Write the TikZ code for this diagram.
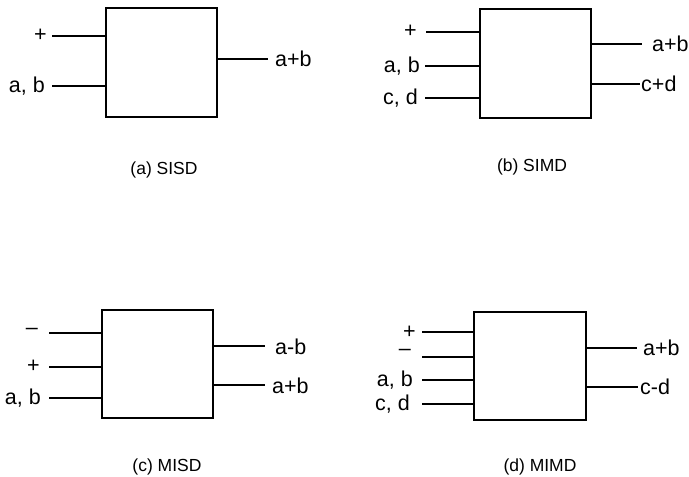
\documentclass[tikz,border=0pt]{standalone}
\usepackage{fontspec}
\setmainfont{Liberation Sans}
\begin{document}
\begin{tikzpicture}[x=1pt,y=-1pt,
  procbox/.style={draw,line width=1.4pt,inner sep=0pt,minimum width=111pt,minimum height=109pt},
  wire/.style={line width=2.3pt},
  lbl/.style={inner sep=0pt,font=\fontsize{21.5}{24}\selectfont},
  captxt/.style={inner sep=0pt,font=\fontsize{17.5}{20}\selectfont}]
\useasboundingbox (0,0) rectangle (689,477);
% ---------- (a) SISD ----------
\node[procbox] (A) at (161.5,62.5) {};
\coordinate (a1) at (52,36);
\coordinate (a2) at (52,86);
\node[lbl,anchor=east] (la1) at (47,35) {+};
\node[lbl,anchor=east] (la2) at (45,86) {a, b};
\draw[wire] (a1) -- (a1 -| A.west);
\draw[wire] (a2) -- (a2 -| A.west);
\coordinate (ao1) at (268,59);
\node[lbl,anchor=west] (lao1) at (275,59) {a+b};
\draw[wire] (A.east |- ao1) -- (ao1);
\node[captxt] (capa) at (164,170) {(a) SISD};
% ---------- (b) SIMD ----------
\node[procbox] (B) at (535.5,63.5) {};
\coordinate (b1) at (426,32);
\coordinate (b2) at (425,66);
\coordinate (b3) at (425,98);
\node[lbl,anchor=east] (lb1) at (417,31) {+};
\node[lbl,anchor=east] (lb2) at (420,66) {a, b};
\node[lbl,anchor=east] (lb3) at (418,98) {c, d};
\draw[wire] (b1) -- (b1 -| B.west);
\draw[wire] (b2) -- (b2 -| B.west);
\draw[wire] (b3) -- (b3 -| B.west);
\coordinate (bo1) at (642,44);
\coordinate (bo2) at (640,84);
\node[lbl,anchor=west] (lbo1) at (652,44) {a+b};
\node[lbl,anchor=west] (lbo2) at (641,84) {c+d};
\draw[wire] (B.east |- bo1) -- (bo1);
\draw[wire] (B.east |- bo2) -- (bo2);
\node[captxt] (capb) at (532,167) {(b) SIMD};
% ---------- (c) MISD ----------
\node[procbox,minimum height=108pt] (C) at (157.5,364) {};
\coordinate (c1) at (49,333);
\coordinate (c2) at (49,367);
\coordinate (c3) at (49,398);
\node[lbl,anchor=east] (lc1) at (38,331) {–};
\node[lbl,anchor=east] (lc2) at (40,366) {+};
\node[lbl,anchor=east] (lc3) at (41,398) {a, b};
\draw[wire] (c1) -- (c1 -| C.west);
\draw[wire] (c2) -- (c2 -| C.west);
\draw[wire] (c3) -- (c3 -| C.west);
\coordinate (co1) at (265,346);
\coordinate (co2) at (265,385);
\node[lbl,anchor=west] (lco1) at (275,347) {a-b};
\node[lbl,anchor=west] (lco2) at (272,386) {a+b};
\draw[wire] (C.east |- co1) -- (co1);
\draw[wire] (C.east |- co2) -- (co2);
\node[captxt] (capc) at (167,467) {(c) MISD};
% ---------- (d) MIMD ----------
\node[procbox,minimum width=112pt,minimum height=108pt] (D) at (530,366) {};
\coordinate (d1) at (422,332);
\coordinate (d2) at (422,357);
\coordinate (d3) at (422,380);
\coordinate (d4) at (422,404);
\node[lbl,anchor=east,text height=0.6em,text depth=0pt] (ld1) at (416,335) {+};
\node[lbl,anchor=east,text height=0.4em,text depth=0pt] (ld2) at (411,353.6) {–};
\node[lbl,anchor=east] (ld3) at (413,380) {a, b};
\node[lbl,anchor=east] (ld4) at (410,404) {c, d};
\draw[wire] (d1) -- (d1 -| D.west);
\draw[wire] (d2) -- (d2 -| D.west);
\draw[wire] (d3) -- (d3 -| D.west);
\draw[wire] (d4) -- (d4 -| D.west);
\coordinate (do1) at (637,348);
\coordinate (do2) at (638,387);
\node[lbl,anchor=west] (ldo1) at (643,348) {a+b};
\node[lbl,anchor=west] (ldo2) at (640,387) {c-d};
\draw[wire] (D.east |- do1) -- (do1);
\draw[wire] (D.east |- do2) -- (do2);
\node[captxt] (capd) at (540,467) {(d) MIMD};
\end{tikzpicture}
\end{document}
